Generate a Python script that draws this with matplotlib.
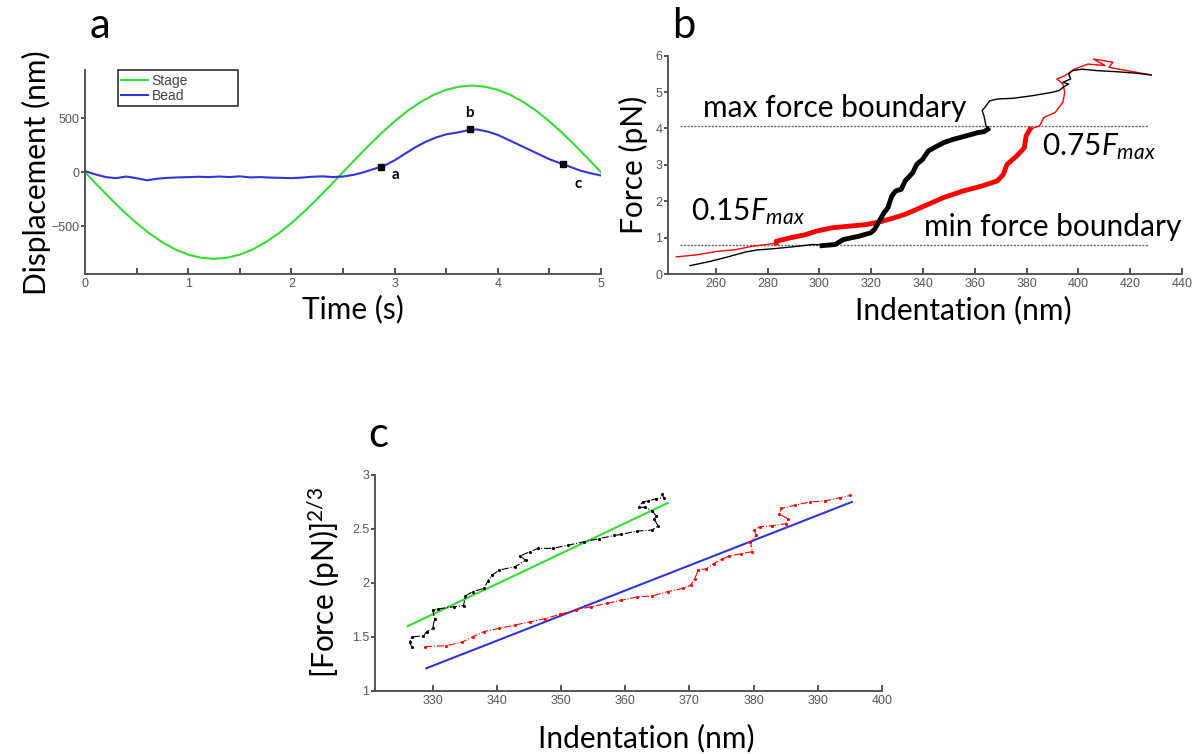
import numpy as np
import matplotlib
matplotlib.use("Agg")
import matplotlib.pyplot as plt

plt.rcParams['font.family'] = ['Lato', 'DejaVu Sans']
plt.rcParams['mathtext.fontset'] = 'custom'
plt.rcParams['mathtext.rm'] = 'Lato'
plt.rcParams['mathtext.it'] = 'Lato:italic'

# ---- panel a: stage and bead displacement ----
stage_t = [0, 0.125, 0.25, 0.375, 0.5, 0.625, 0.75, 0.875, 1.0, 1.125, 1.25,
           1.375, 1.5, 1.625, 1.75, 1.875, 2.0, 2.125, 2.25, 2.375, 2.5,
           2.625, 2.75, 2.875, 3.0, 3.125, 3.25, 3.375, 3.5, 3.625, 3.75,
           3.875, 4.0, 4.125, 4.25, 4.375, 4.5, 4.625, 4.75, 4.875, 5.0]
stage_disp = [0, -125, -247, -363, -470, -566, -647, -713, -761, -790, -800,
              -790, -761, -713, -647, -566, -470, -363, -247, -125, 0,
              125, 247, 363, 470, 566, 647, 713, 761, 790, 800,
              790, 761, 713, 647, 566, 470, 363, 247, 125, 0]

bead_t = [0.0, 0.1, 0.2, 0.3, 0.4, 0.5, 0.6, 0.7, 0.8, 0.9, 1.0, 1.1, 1.2,
          1.3, 1.4, 1.5, 1.6, 1.7, 1.8, 1.9, 2.0, 2.1, 2.2, 2.3, 2.4, 2.5,
          2.6, 2.7, 2.8, 2.9, 3.0, 3.1, 3.2, 3.3, 3.4, 3.5, 3.6, 3.7, 3.8,
          3.9, 4.0, 4.1, 4.2, 4.3, 4.4, 4.5, 4.6, 4.7, 4.8, 4.9, 5.0]
bead_disp = [10, -20, -45, -55, -40, -55, -75, -60, -52, -48, -45, -42, -45,
             -40, -45, -38, -48, -45, -50, -52, -55, -50, -42, -38, -45, -40,
             -25, 0, 30, 60, 110, 170, 230, 280, 320, 350, 365, 385, 395,
             375, 345, 300, 255, 210, 165, 120, 85, 50, 15, -10, -30]

mark_t = [2.87, 3.73, 4.63]
mark_disp = [52, 397, 77]
mark_names = ['a', 'b', 'c']

# ---- panel b: force vs indentation ----
blk_thin1_x = [250, 257.4, 264.6, 271.7, 276, 283, 290, 297.3, 301]
blk_thin1_y = [0.23, 0.34, 0.47, 0.61, 0.66, 0.70, 0.75, 0.81, 0.80]
blk_thick_x = [301, 306, 309.3, 315.3, 319.7, 321.2, 322.7, 324.9, 326.4,
               327.9, 329.4, 331.6, 333.1, 336, 337.5, 339.8, 342, 344.2,
               347.9, 351.6, 356.8, 361.3, 363.5, 365]
blk_thick_y = [0.78, 0.81, 0.95, 1.04, 1.13, 1.22, 1.41, 1.68, 1.82,
               2.14, 2.28, 2.33, 2.56, 2.78, 3.01, 3.15, 3.38, 3.47,
               3.61, 3.70, 3.80, 3.89, 3.91, 3.98]
blk_thin2_x = [365, 364.3, 363.5, 362.8, 364.3, 365.7, 368.7, 374.7, 382.1,
               389.5, 392.5, 394, 396.2, 394, 397, 396.2, 397.7, 401.4,
               407.3, 414.8, 422.2, 428.1]
blk_thin2_y = [3.98, 4.07, 4.35, 4.49, 4.62, 4.76, 4.81, 4.83, 4.90,
               4.99, 5.04, 5.13, 5.22, 5.27, 5.36, 5.50, 5.59, 5.63,
               5.59, 5.56, 5.52, 5.47]

red_thin1_x = [244.7, 252.9, 260.3, 267.7, 273.7, 279.6, 283.3]
red_thin1_y = [0.47, 0.53, 0.62, 0.67, 0.76, 0.81, 0.85]
red_thick_x = [283.3, 283.3, 288.5, 294.5, 298.9, 304.9, 310.8, 318.2,
               324.2, 328.6, 333.1, 340.5, 347.9, 355.4, 362.8, 368.7,
               371, 372.4, 376.1, 379.1, 379.8, 381.3]
red_thick_y = [0.85, 0.90, 0.99, 1.08, 1.18, 1.27, 1.31, 1.36,
               1.45, 1.54, 1.64, 1.87, 2.10, 2.28, 2.42, 2.56,
               2.74, 3.01, 3.24, 3.47, 3.80, 3.98]
red_thin2_x = [381.3, 385, 386.6, 391, 394, 394.7, 394, 391.7, 394.7, 398.4,
               403.6, 410.3, 405.8, 413.3, 411.8, 428.1]
red_thin2_y = [3.98, 4.07, 4.30, 4.44, 4.72, 4.99, 5.22, 5.36, 5.45, 5.63,
               5.77, 5.73, 5.91, 5.82, 5.68, 5.47]

f_max_bound = 4.07
f_min_bound = 0.79
bound_x = [246, 427]

# ---- panel c: linearised force^(2/3) ----
c_blk_x = [326.7, 326.4, 326.7, 328.5, 329.1, 330, 330.3, 330, 330.9, 333.3,
           334.8, 335.1, 336.2, 338, 338.6, 339.2, 340.4, 342.8, 344.5, 343.6,
           345.2, 346.4, 348.7, 351.1, 353.5, 355.9, 358.3, 359.4, 361.8,
           364.2, 365.1, 364.5, 364.8, 364.2, 363, 362.1, 362.7, 363.6, 364.8,
           366, 365.7]
c_blk_y = [1.41, 1.45, 1.50, 1.51, 1.55, 1.58, 1.67, 1.75, 1.76, 1.78,
           1.79, 1.88, 1.92, 1.95, 2.02, 2.07, 2.12, 2.15, 2.21, 2.25,
           2.29, 2.32, 2.32, 2.35, 2.38, 2.41, 2.44, 2.45, 2.48,
           2.49, 2.53, 2.59, 2.62, 2.67, 2.70, 2.70, 2.75, 2.76, 2.78,
           2.79, 2.82]
c_red_x = [328.8, 332.1, 334.5, 336.2, 338, 340.4, 342.8, 345.2, 347.5, 349.9,
           352.3, 354.7, 357.1, 359.4, 361.8, 364.2, 366.6, 369, 370.2, 370.8,
           371.4, 372.6, 373.8, 375, 376.2, 378, 379.8, 379.5, 380.4, 380.1,
           381, 382.8, 385.1, 385.4, 384, 384.3, 386.4, 388.8, 391.1, 393.5,
           395]
c_red_y = [1.41, 1.42, 1.45, 1.50, 1.55, 1.58, 1.61, 1.64, 1.67, 1.71,
           1.75, 1.78, 1.81, 1.84, 1.87, 1.88, 1.92, 1.95, 1.98, 2.04,
           2.12, 2.13, 2.18, 2.22, 2.25, 2.27, 2.29, 2.38, 2.44, 2.49,
           2.52, 2.53, 2.55, 2.59, 2.64, 2.69, 2.72, 2.75, 2.76, 2.79,
           2.81]
fit_green_x = [326.1, 366.6]
fit_green_y = [1.60, 2.74]
fit_blue_x = [329, 395.3]
fit_blue_y = [1.21, 2.75]

GRAY = '#555555'
BIG = 21.5


def style_axes(ax):
    for s in ['top', 'right']:
        ax.spines[s].set_visible(False)
    for s in ['left', 'bottom']:
        ax.spines[s].set_color(GRAY)
        ax.spines[s].set_linewidth(1.4)
    ax.tick_params(axis='x', direction='in', length=4, width=1.2, color='#333333',
                   labelcolor=GRAY, labelsize=9, pad=3)
    ax.tick_params(axis='y', direction='out', length=3, width=1.2, color='#333333',
                   labelcolor=GRAY, labelsize=9, pad=1)
    ax.tick_params(axis='both', which='minor', direction='in', length=4, width=1.2,
                   color='#333333')
    for lab in ax.get_xticklabels() + ax.get_yticklabels():
        lab.set_fontfamily('Liberation Sans')


fig = plt.figure(figsize=(12.01, 7.54), dpi=100)

# panel a
ax1 = fig.add_axes([0.0708, 0.6366, 0.4296, 0.270])
ax1.plot(stage_t, stage_disp, color='#33dd33', lw=1.5, label='Stage')
ax1.plot(bead_t, bead_disp, color='#3333dd', lw=1.5, label='Bead')
ax1.plot(mark_t, mark_disp, 's', color='black', ms=5)
ax1.text(mark_t[0] + 0.1, mark_disp[0] - 80, mark_names[0], fontsize=11,
         fontweight='bold', ha='left', va='center')
ax1.text(mark_t[1], mark_disp[1] + 150, mark_names[1], fontsize=11,
         fontweight='bold', ha='center', va='center')
ax1.text(mark_t[2] + 0.15, mark_disp[2] - 185, mark_names[2], fontsize=11,
         fontweight='bold', ha='center', va='center')
ax1.set_xlim(0, 5)
ax1.set_ylim(-940, 940)
ax1.set_xticks([0, 1, 2, 3, 4, 5])
ax1.set_xticks([0.5, 1.5, 2.5, 3.5, 4.5], minor=True)
ax1.set_yticks([-500, 0, 500])
style_axes(ax1)
ax1.set_xlabel('Time (s)', fontsize=BIG, labelpad=3)
ax1.xaxis.set_label_coords(0.52, -0.1, transform=ax1.transAxes)
ax1.xaxis.label.set_va('top')
ax1.set_ylabel('Displacement (nm)', fontsize=BIG, labelpad=0)
leg = ax1.legend(loc='upper left', bbox_to_anchor=(0.063, 0.8, 0.233, 0.2),
                 mode='expand', fancybox=False, edgecolor='black',
                 prop={'family': 'Liberation Sans', 'size': 10},
                 handlelength=1.95, borderpad=0.25, labelspacing=0.05,
                 handletextpad=0.25, borderaxespad=0)
leg.get_frame().set_linewidth(1.2)
for t in leg.get_texts():
    t.set_color('#444444')
fig.text(0.0833, 0.965, 'a', fontsize=30, ha='center', va='center')

# panel b
ax2 = fig.add_axes([0.5562, 0.6366, 0.428, 0.2895])
ax2.plot(bound_x, [f_max_bound] * 2, color='#666666', ls=(0, (1.5, 1)), lw=1)
ax2.plot(bound_x, [f_min_bound] * 2, color='#666666', ls=(0, (1.5, 1)), lw=1)
ax2.plot(red_thin1_x, red_thin1_y, color='red', lw=1)
ax2.plot(red_thin2_x, red_thin2_y, color='red', lw=1)
ax2.plot(blk_thin1_x, blk_thin1_y, color='black', lw=1)
ax2.plot(blk_thin2_x, blk_thin2_y, color='black', lw=1)
ax2.plot(red_thick_x, red_thick_y, color='red', lw=3.5)
ax2.plot(blk_thick_x, blk_thick_y, color='black', lw=3.5)
ax2.set_xlim(241.5, 440)
ax2.set_ylim(0, 6)
ax2.set_xticks(range(260, 441, 20))
ax2.set_yticks(range(0, 7))
style_axes(ax2)
ax2.set_xlabel('Indentation (nm)', fontsize=BIG)
ax2.xaxis.set_label_coords(0.575, -0.1, transform=ax2.transAxes)
ax2.xaxis.label.set_va('top')
ax2.set_ylabel('Force (pN)', fontsize=BIG, labelpad=5)
ax2.text(255, 4.57, 'max force boundary', fontsize=BIG, ha='left', va='center')
ax2.text(340.5, 1.28, 'min force boundary', fontsize=BIG, ha='left', va='center')
ax2.text(386, 3.5, '0.75$F_{max}$', fontsize=BIG, ha='left', va='center')
ax2.text(250.5, 1.72, '0.15$F_{max}$', fontsize=BIG, ha='left', va='center')
fig.text(0.5695, 0.965, 'b', fontsize=30, ha='center', va='center')

# panel c
ax3 = fig.add_axes([0.3122, 0.0836, 0.4222, 0.2865])
ax3.plot(fit_green_x, fit_green_y, color='#33dd33', lw=1.5)
ax3.plot(fit_blue_x, fit_blue_y, color='#3333dd', lw=1.5)
ax3.plot(c_blk_x, c_blk_y, color='black', lw=0.8, ls='-.', marker='.', ms=2.5)
ax3.plot(c_red_x, c_red_y, color='red', lw=0.8, ls='-.', marker='.', ms=2.5)
ax3.set_xlim(321, 400)
ax3.set_ylim(1, 3)
ax3.set_xticks(range(330, 401, 10))
ax3.set_yticks([1, 1.5, 2, 2.5, 3])
ax3.set_yticklabels(['1', '1.5', '2', '2.5', '3'])
style_axes(ax3)
ax3.set_xlabel('Indentation (nm)', fontsize=BIG)
ax3.xaxis.set_label_coords(0.535, -0.15, transform=ax3.transAxes)
ax3.xaxis.label.set_va('top')
ax3.set_ylabel('[Force (pN)]$^{\\mathrm{2/3}}$', fontsize=BIG, labelpad=7)
fig.text(0.3147, 0.423, 'c', fontsize=30, ha='center', va='center')

fig.savefig('out.png', dpi=100)
